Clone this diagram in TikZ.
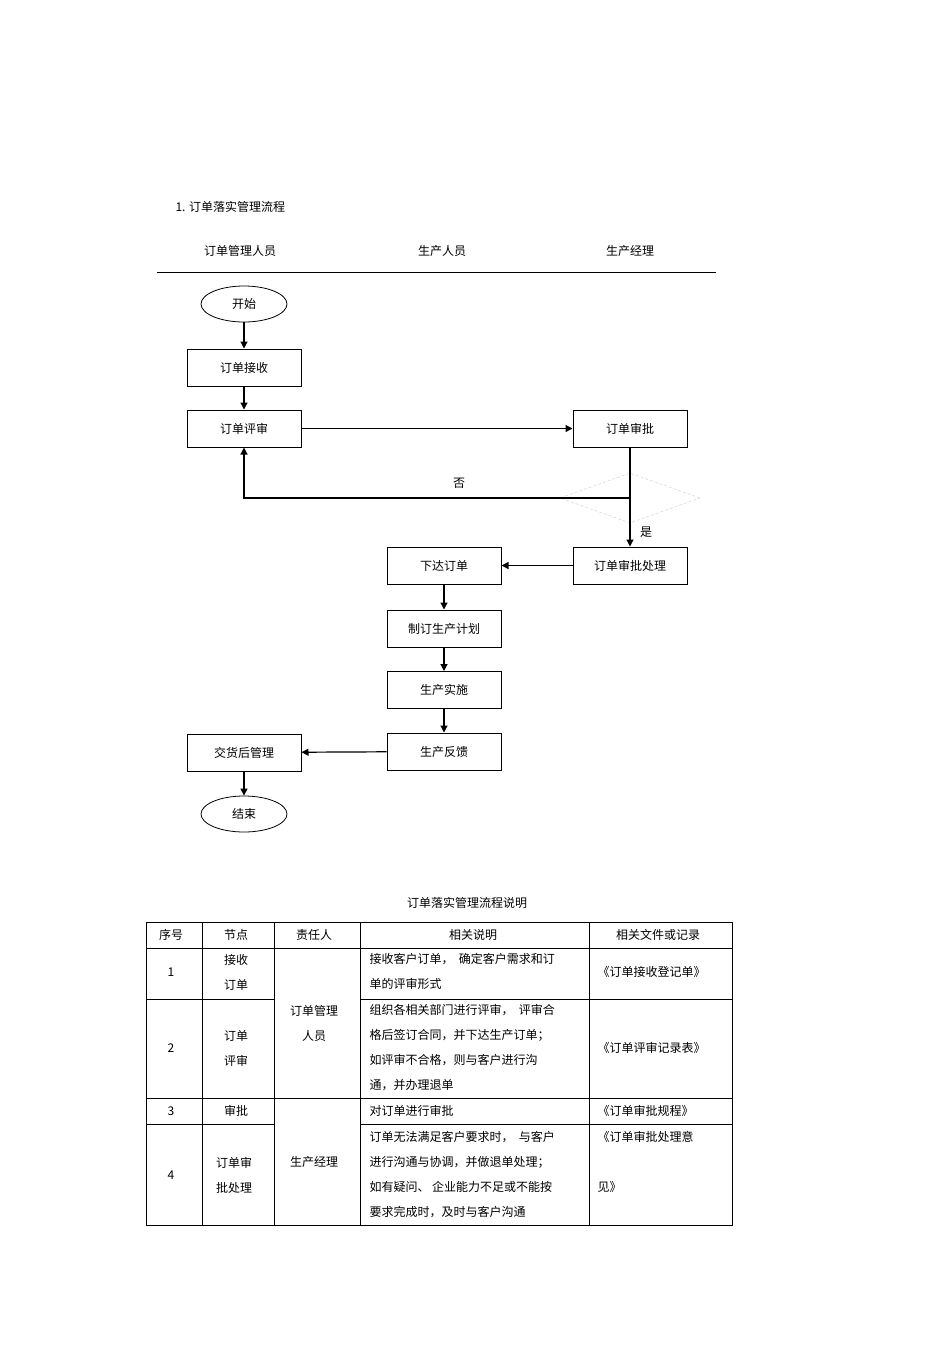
\documentclass[tikz,border=0pt]{standalone}
\usepackage{fontspec}
\newfontfamily\cjk{Noto Sans CJK SC}
\usetikzlibrary{shapes.geometric,arrows.meta}
\begin{document}
\begin{tikzpicture}[x=1pt,y=-1pt,font=\cjk\fontsize{12}{14}\selectfont,
 box/.style={draw,line width=1pt,minimum width=114pt,minimum height=37pt,inner sep=0pt},
 term/.style={draw,ellipse,line width=0.8pt,minimum width=86pt,minimum height=36pt,inner sep=0pt},
 arr/.style={-{Triangle[length=7pt,width=7pt]},line width=1.2pt},
 tl/.style={line width=0.7pt}]
\useasboundingbox (0,0) rectangle (950,1345);
\node[anchor=west] (title) at (172,207) {1. 订单落实管理流程};
\node (h1) at (240,251) {订单管理人员};
\node (h2) at (442,251) {生产人员};
\node (h3) at (630,251) {生产经理};
\draw[line width=0.8pt] (157,272) -- (716,272);
\node[term] (start) at (244,304) {开始};
\node[box] (recv) at (244,367.5) {订单接收};
\node[box] (rev) at (244,428.5) {订单评审};
\node[box] (appr) at (630,428.5) {订单审批};
\node[draw=gray!40,densely dashed,diamond,minimum width=140pt,minimum height=50pt,aspect=2.8,inner sep=0pt] (dec) at (630,498) {};
\node[box] (proc) at (630,565.5) {订单审批处理};
\node[box] (issue) at (444,565.5) {下达订单};
\node[box] (plan) at (444,628.5) {制订生产计划};
\node[box] (impl) at (444,690) {生产实施};
\node[box] (fb) at (444,751.5) {生产反馈};
\node[box] (after) at (244,752.5) {交货后管理};
\node[term] (end) at (244,814) {结束};
\draw[arr] (start) -- (recv);
\draw[arr] (recv) -- (rev);
\draw[arr] (rev) -- (appr);
\draw[line width=1.2pt] (appr) -- (dec.center);
\draw[arr] (dec.center) -- (proc);
\draw[arr] (dec.center) -- (rev.south |- dec.center) -- (rev);
\node (no) at (459,483) {否};
\node (yes) at (646,532) {是};
\draw[arr] (proc) -- (issue);
\draw[arr] (issue) -- (plan);
\draw[arr] (plan) -- (impl);
\draw[arr] (impl) -- (fb);
\draw[arr] (fb) -- (after);
\draw[arr] (after) -- (end);
% table
\node (tt) at (467,903) {订单落实管理流程说明};
\draw[tl] (146,922) rectangle (732,1225);
\foreach \x in {202,274,360,589} \draw[tl] (\x,922) -- (\x,1225);
\draw[tl] (146,948) -- (732,948);
\draw[tl] (146,999) -- (274,999); \draw[tl] (360,999) -- (732,999);
\draw[tl] (146,1098) -- (732,1098);
\draw[tl] (146,1124) -- (274,1124); \draw[tl] (360,1124) -- (732,1124);
\node (c1) at (171,935) {序号};
\node (c2) at (236,935) {节点};
\node (c3) at (314,935) {责任人};
\node (c4) at (473,935) {相关说明};
\node (c5) at (658,935) {相关文件或记录};
\node (n1) at (171,972) {1};
\node (n2) at (171,1048) {2};
\node (n3) at (171,1111) {3};
\node (n4) at (171,1175) {4};
\node[align=center,font=\cjk\fontsize{12}{25}\selectfont] (k1) at (236,972) {接收\\订单};
\node[align=center,font=\cjk\fontsize{12}{25}\selectfont] (k2) at (236,1048) {订单\\评审};
\node (k3) at (236,1111) {审批};
\node[align=center,font=\cjk\fontsize{12}{25}\selectfont] (k4) at (234,1175) {订单审\\批处理};
\node[align=center,font=\cjk\fontsize{12}{25}\selectfont] (p1) at (314,1023) {订单管理\\人员};
\node (p2) at (314,1162) {生产经理};
\begin{scope}[every node/.style={anchor=west}]
\node (d1) at (366,959) {接收客户订单，\ \ 确定客户需求和订};
\node (d1b) at (366,984) {单的评审形式};
\node (d2) at (366,1010) {组织各相关部门进行评审，\ \ 评审合};
\node (d2b) at (366,1035) {格后签订合同，并下达生产订单；};
\node (d2c) at (366,1060) {如评审不合格，则与客户进行沟};
\node (d2d) at (366,1085) {通，并办理退单};
\node (d3) at (366,1111) {对订单进行审批};
\node (d4) at (366,1137) {订单无法满足客户要求时，\ \ 与客户};
\node (d4b) at (366,1162) {进行沟通与协调，并做退单处理；};
\node (d4c) at (366,1187) {如有疑问、\ 企业能力不足或不能按};
\node (d4d) at (366,1212) {要求完成时，及时与客户沟通};
\node (f1) at (594,972) {《订单接收登记单》};
\node (f2) at (594,1048) {《订单评审记录表》};
\node (f3) at (594,1111) {《订单审批规程》};
\node (f4) at (594,1137) {《订单审批处理意};
\node (f4b) at (594,1187) {见》};
\end{scope}
\end{tikzpicture}
\end{document}
